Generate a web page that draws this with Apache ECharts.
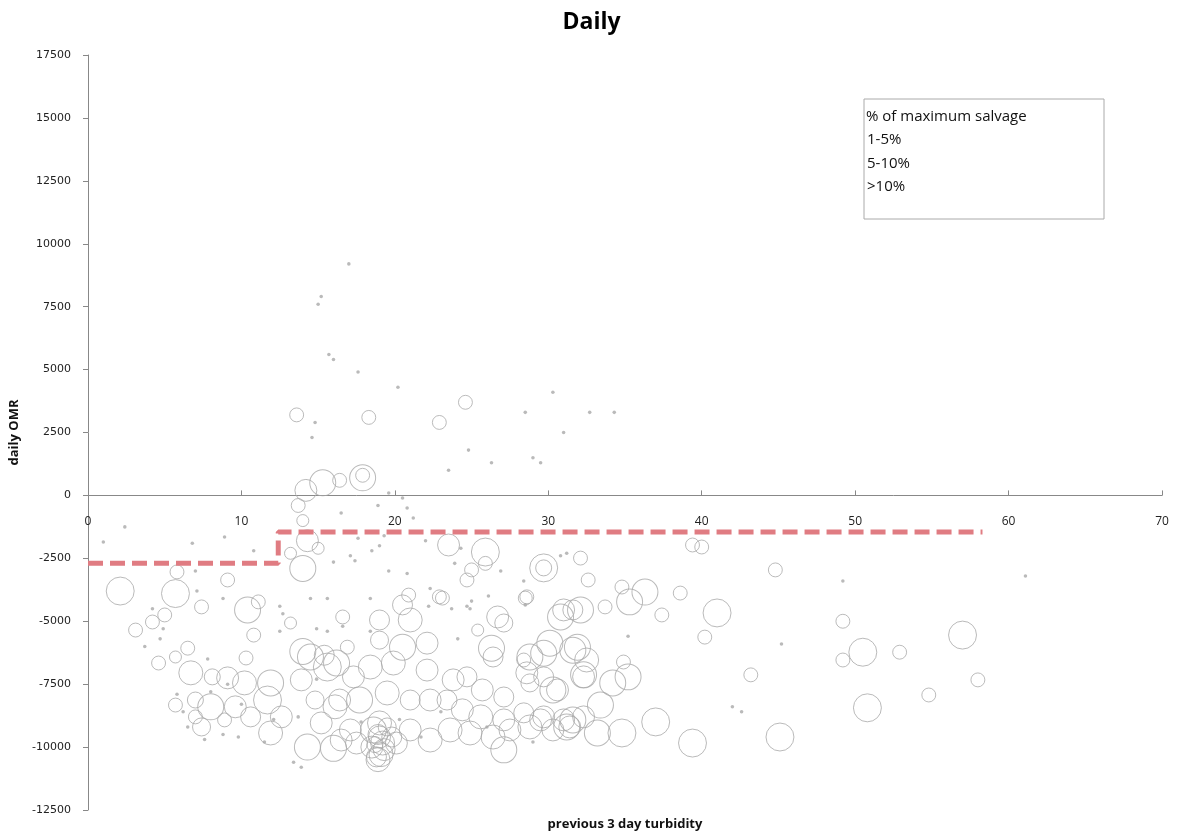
<!DOCTYPE html>
<html>
<head>
<meta charset="utf-8">
<title>Daily</title>
<script src="https://cdn.jsdelivr.net/npm/echarts@6/dist/echarts.min.js"></script>
<style>
  html, body { margin: 0; padding: 0; background: #fff; }
  #chart { width: 1183px; height: 836px; }
</style>
</head>
<body>
<div id="chart"></div>
<script>
// [turbidity, daily OMR, salvage]
var lowSalvage = [
  [17.0, 9200, 2], [15.2, 7900, 2], [15.0, 7600, 2], [15.7, 5600, 2], [16.0, 5400, 2],
  [17.6, 4900, 2], [20.2, 4300, 2], [30.3, 4100, 2], [32.7, 3300, 2], [34.3, 3300, 2],
  [31.0, 2500, 2], [14.8, 2900, 2], [14.6, 2300, 2], [28.5, 3300, 2], [29.0, 1500, 2],
  [29.5, 1300, 2], [24.8, 1800, 2], [23.5, 1000, 2], [26.3, 1300, 2], [19.6, 100, 2],
  [20.5, -100, 2], [20.8, -500, 2], [21.2, -900, 2], [18.9, -400, 2], [16.5, -700, 2],
  [19.3, -1600, 2], [22.0, -1800, 2], [17.4, -2600, 2], [18.5, -2200, 2], [19.0, -2000, 2],
  [2.4, -1250, 2], [1.0, -1850, 2], [6.8, -1900, 2], [8.9, -1650, 2], [10.8, -2200, 2],
  [7.0, -3000, 2], [7.1, -3800, 2], [4.2, -4500, 2], [8.8, -4100, 2], [12.5, -4400, 2],
  [12.7, -4700, 2], [12.5, -5400, 2], [4.9, -5300, 2], [3.7, -6000, 2], [4.7, -5700, 2],
  [14.5, -4100, 2], [15.6, -4100, 2], [14.9, -5300, 2], [15.6, -5400, 2], [16.6, -5200, 2],
  [18.4, -4100, 2], [17.1, -2400, 2], [17.6, -1700, 2], [16.0, -2650, 2], [19.6, -3000, 2],
  [20.8, -3100, 2], [22.3, -3700, 2], [24.3, -2100, 2], [24.9, -4500, 2], [7.8, -6500, 2],
  [9.1, -7500, 2], [5.8, -7900, 2], [6.5, -9200, 2], [7.6, -9700, 2], [8.8, -9500, 2],
  [9.8, -9600, 2], [12.1, -8900, 2], [13.4, -10600, 2], [13.9, -10800, 2], [13.7, -8800, 2],
  [14.9, -7300, 2], [18.4, -5400, 2], [22.2, -4400, 2], [24.1, -5700, 2], [25.0, -4200, 2],
  [23.9, -2700, 2], [26.9, -3000, 2], [24.7, -4400, 2], [26.1, -4000, 2], [23.7, -4500, 2],
  [28.4, -3400, 2], [30.8, -2400, 2], [31.2, -2300, 2], [35.2, -5600, 2], [42.0, -8400, 2],
  [42.6, -8600, 2], [45.2, -5900, 2], [28.5, -4350, 2], [49.2, -3400, 2], [61.1, -3200, 2],
  [8.0, -7800, 2], [10.0, -8300, 2], [6.2, -8600, 2], [11.5, -9800, 2], [20.3, -8900, 2],
  [23.0, -8600, 2], [26.0, -9200, 2], [29.0, -9800, 2], [17.8, -9000, 2], [21.7, -9600, 2]
];
var midSalvage = [
  [13.6, 3200, 31], [18.3, 3100, 31], [22.9, 2900, 31], [24.6, 3700, 31],
  [16.4, 600, 31], [17.9, 800, 31], [13.7, -400, 31], [14.0, -1000, 23],
  [13.2, -2300, 23], [15.0, -2100, 23], [25.0, -2960, 31], [24.7, -3360, 31],
  [25.9, -2700, 31], [29.7, -2880, 41], [32.1, -2490, 31], [32.6, -3360, 31],
  [39.4, -1970, 31], [40.0, -2050, 31], [44.8, -2960, 31], [5.8, -3040, 31],
  [9.1, -3360, 31], [3.1, -5350, 31], [4.2, -5030, 31], [5.0, -4750, 31],
  [7.4, -4430, 31], [11.1, -4230, 31], [13.2, -5070, 23], [10.8, -5550, 31],
  [10.3, -6460, 31], [6.5, -6070, 31], [5.7, -6420, 23], [4.6, -6660, 31],
  [8.1, -7210, 41], [5.7, -8330, 31], [7.0, -8130, 41], [7.4, -9200, 52],
  [8.9, -8920, 31], [7.0, -8800, 31], [14.8, -8130, 52], [16.9, -6030, 31],
  [16.6, -4830, 31], [19.0, -5750, 52], [22.9, -4030, 31], [25.4, -5350, 23],
  [27.1, -5070, 52], [28.6, -4030, 31], [28.8, -7450, 52], [28.5, -4080, 31],
  [23.1, -4080, 31], [20.9, -3960, 31], [33.7, -4430, 31], [34.8, -3640, 31],
  [37.4, -4750, 31], [38.6, -3880, 31], [40.2, -5630, 31], [28.4, -6540, 31],
  [34.9, -6620, 31], [43.2, -7130, 31], [49.2, -5000, 31], [49.2, -6540, 31],
  [52.9, -6230, 31], [54.8, -7930, 31], [58.0, -7330, 31], [18.7, -9900, 41],
  [19.5, -9200, 52]
];
var highSalvage = [
  [14.2, 200, 77], [15.3, 500, 108], [17.9, 700, 108], [14.3, -1800, 77],
  [14.0, -2900, 108], [23.5, -1970, 77], [25.9, -2250, 125], [29.7, -2880, 125],
  [2.1, -3800, 125], [5.7, -3900, 125], [10.4, -4550, 108], [6.7, -7050, 92],
  [9.1, -7250, 77], [10.2, -7450, 92], [11.9, -7450, 108], [13.9, -7330, 77],
  [14.5, -6420, 108], [14.0, -6200, 108], [15.4, -6350, 64], [15.6, -6820, 125],
  [8.0, -8400, 108], [9.6, -8400, 77], [10.6, -8800, 64], [11.7, -8130, 125],
  [12.6, -8800, 77], [11.9, -9440, 92], [14.3, -10000, 108], [15.2, -9040, 77],
  [16.1, -8400, 92], [16.5, -9720, 77], [16.0, -10050, 108],
  [19.0, -4950, 64], [20.5, -4350, 64], [21.0, -4950, 92], [20.5, -6030, 108],
  [22.1, -5870, 77], [26.7, -4830, 77], [26.3, -6070, 108], [26.4, -6420, 64],
  [28.8, -6420, 108], [31.0, -4550, 77], [30.1, -5870, 108], [31.9, -6030, 108],
  [31.6, -4550, 64], [32.3, -7210, 77], [30.6, -7730, 77], [29.7, -7210, 64],
  [16.2, -6660, 108], [17.3, -7210, 77], [18.4, -6820, 92], [19.9, -6660, 92],
  [22.1, -6940, 77], [23.8, -7330, 77], [24.7, -7210, 64], [25.7, -7730, 77],
  [27.1, -8010, 64], [16.4, -8130, 77], [17.7, -8130, 108], [19.5, -7850, 92],
  [21.0, -8130, 64], [22.3, -8130, 77], [23.4, -8130, 64], [24.4, -8520, 77],
  [25.6, -8800, 92], [27.1, -8920, 77], [28.4, -8640, 64], [29.7, -8800, 77],
  [31.0, -8920, 77], [32.3, -8800, 77], [17.1, -9320, 77], [18.6, -9320, 108],
  [19.0, -9600, 77], [19.2, -9840, 92], [19.0, -9040, 92], [20.1, -9840, 77],
  [21.0, -9320, 77], [22.3, -9720, 92], [23.6, -9320, 92], [24.9, -9440, 92],
  [26.4, -9600, 92], [27.5, -9320, 77], [28.8, -9200, 92], [30.3, -9320, 77],
  [31.4, -9200, 77], [17.5, -9840, 77], [18.8, -10390, 64], [27.1, -10110, 108],
  [18.9, -9500, 64], [19.3, -10100, 77], [19.8, -9600, 64], [18.5, -10000, 77],
  [19.1, -10300, 92], [18.9, -10500, 92],
  [35.3, -4230, 108], [36.3, -3840, 108], [41.0, -4670, 125], [30.8, -4830, 108],
  [32.1, -4550, 108], [29.7, -6270, 108], [31.6, -6150, 108], [32.5, -6540, 92],
  [32.3, -7130, 108], [30.3, -7730, 108], [28.6, -7050, 77], [34.2, -7450, 108],
  [35.2, -7210, 108], [33.4, -8330, 108], [31.6, -8920, 108], [29.5, -8920, 77],
  [31.2, -9200, 108], [33.2, -9440, 108], [34.8, -9440, 125], [37.0, -9000, 125],
  [39.4, -9840, 125], [45.1, -9600, 125], [50.5, -6230, 125], [57.0, -5550, 125],
  [50.8, -8440, 125]
];
var thresholdX = [0, 12.4, 12.4, 58.3];
var thresholdY = [-2700, -2700, -1450, -1450];

var legendNames = ['1-5%', '5-10%', '>10%'];

var gray = '#a9a9a9';
var font = '"Open Sans", "DejaVu Sans", sans-serif';

// plot box, and where the y = 0 line falls inside it
var gridTop = 55, gridBottom = 26, plotHeight = 836 - gridTop - gridBottom;
var yMin = -12500, yMax = 17500;
var zeroOffset = plotHeight * (0 - yMin) / (yMax - yMin);

function bubbleSize(d) { return 2.5 * Math.sqrt(d[2]); }

function bubbleSeries(name, data, filled) {
  return {
    name: name,
    type: 'scatter',
    data: data,
    symbolSize: bubbleSize,
    itemStyle: filled
      ? { color: gray, borderWidth: 0 }
      : { color: 'rgba(255,255,255,0)', borderColor: gray, borderWidth: 1 },
    emphasis: { disabled: true }
  };
}

var chart = echarts.init(document.getElementById('chart'));
chart.setOption({
  animation: false,
  backgroundColor: '#fff',
  title: {
    text: 'Daily',
    left: 'center',
    top: 6,
    textStyle: { fontFamily: font, fontSize: 23, fontWeight: 'bold', color: '#000' }
  },
  grid: { left: 88, right: 21, top: gridTop, bottom: gridBottom, outerBoundsMode: 'none', containLabel: false },
  legend: {
    data: legendNames,
    orient: 'vertical',
    left: 861,
    top: 128,
    padding: 0,
    itemGap: 0,
    itemWidth: 0,
    itemHeight: 0,
    selectedMode: false,
    textStyle: { fontFamily: font, fontSize: 15, color: '#111', lineHeight: 23.5 }
  },
  graphic: [
    {
      type: 'rect',
      shape: { x: 864, y: 99, width: 240, height: 120 },
      style: { fill: '#fff', stroke: '#aaa', lineWidth: 1 },
      z: 0
    },
    {
      type: 'text',
      x: 866,
      y: 109,
      style: { text: '% of maximum salvage', fontFamily: font, fontSize: 15, fill: '#111' },
      z: 10
    }
  ],
  xAxis: {
    type: 'value',
    min: 0,
    max: 70,
    interval: 10,
    offset: -zeroOffset,
    name: 'previous 3 day turbidity',
    nameLocation: 'middle',
    nameGap: 322,
    nameTextStyle: { fontFamily: font, fontSize: 13, fontWeight: 'bold', color: '#111' },
    axisLine: { onZero: false, lineStyle: { color: '#888', width: 1 } },
    axisTick: { show: true, inside: true, length: 5, lineStyle: { color: '#888' } },
    axisLabel: { margin: 20, fontFamily: font, fontSize: 12, color: '#222' },
    splitLine: { show: false }
  },
  yAxis: {
    type: 'value',
    min: yMin,
    max: yMax,
    interval: 2500,
    name: 'daily OMR',
    nameLocation: 'middle',
    nameGap: 60,
    nameTextStyle: { fontFamily: font, fontSize: 13, fontWeight: 'bold', color: '#111' },
    axisLine: { show: true, lineStyle: { color: '#888', width: 1 } },
    axisTick: { show: true, length: 5, lineStyle: { color: '#888' } },
    axisLabel: {
      margin: 17,
      fontFamily: '"DejaVu Sans", sans-serif',
      fontSize: 11,
      color: '#222',
      formatter: function (v) { return String(v); }
    },
    splitLine: { show: false }
  },
  series: [
    bubbleSeries('1-5%', lowSalvage, true),
    bubbleSeries('5-10%', midSalvage, false),
    bubbleSeries('>10%', highSalvage, false),
    {
      name: 'threshold',
      type: 'line',
      data: thresholdX.map(function (x, i) { return [x, thresholdY[i]]; }),
      symbol: 'none',
      z: 5,
      lineStyle: { color: '#e07c82', width: 5, type: [15, 7] },
      emphasis: { disabled: true }
    }
  ]
});
</script>
</body>
</html>
